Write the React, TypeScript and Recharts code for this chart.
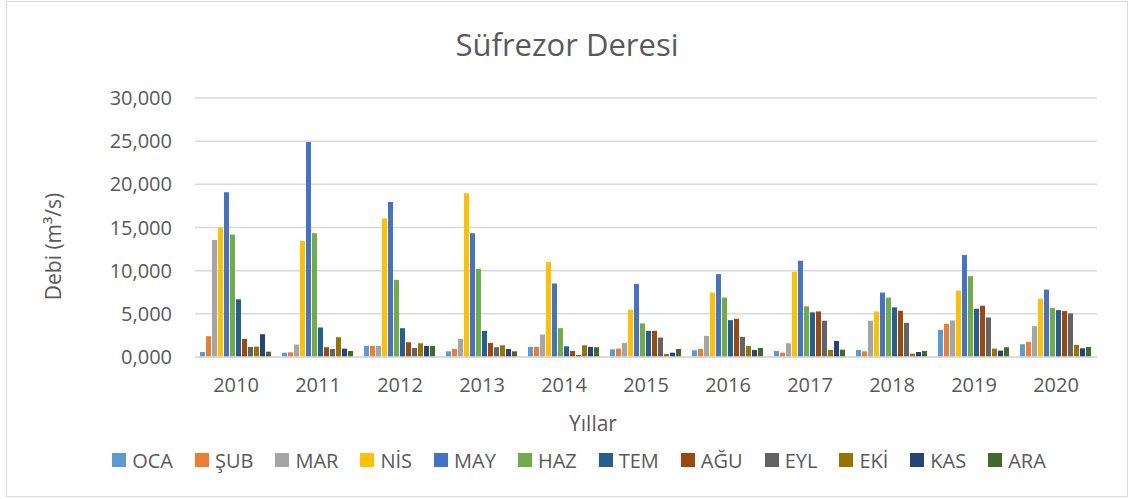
import { BarChart, Bar, XAxis, YAxis, CartesianGrid, Legend, Label } from 'recharts';

const years = ['2010', '2011', '2012', '2013', '2014', '2015', '2016', '2017', '2018', '2019', '2020'];
const months = ['OCA', 'ŞUB', 'MAR', 'NİS', 'MAY', 'HAZ', 'TEM', 'AĞU', 'EYL', 'EKİ', 'KAS', 'ARA'];
const colors = ['#5B9BD5', '#ED7D31', '#A5A5A5', '#FFC000', '#4472C4', '#70AD47', '#255E91', '#9E480E', '#636363', '#997300', '#264478', '#43682B'];
const yTicks = [0, 5, 10, 15, 20, 25, 30];

// debi (m³/s) per month, one value per year 2010..2020
const OCA = [0.58, 0.5, 1.28, 0.66, 1.17, 0.89, 0.78, 0.7, 0.82, 3.15, 1.48];
const SUB = [2.41, 0.55, 1.28, 0.93, 1.17, 0.97, 0.93, 0.5, 0.66, 3.85, 1.75];
const MAR = [13.56, 1.44, 1.28, 2.1, 2.6, 1.63, 2.45, 1.59, 4.2, 4.23, 3.57];
const NIS = [15.0, 13.44, 16.04, 18.96, 11.0, 5.48, 7.46, 9.87, 5.28, 7.69, 6.76];
const MAY = [19.08, 24.9, 17.95, 14.34, 8.51, 8.47, 9.6, 11.15, 7.46, 11.81, 7.81];
const HAZ = [14.18, 14.34, 8.94, 10.22, 3.34, 3.89, 6.88, 5.87, 6.88, 9.36, 5.67];
const TEM = [6.68, 3.42, 3.34, 3.03, 1.24, 3.03, 4.27, 5.17, 5.75, 5.59, 5.44];
const AGU = [2.1, 1.13, 1.71, 1.63, 0.7, 3.03, 4.43, 5.28, 5.36, 5.94, 5.32];
const EYL = [1.17, 0.93, 1.05, 1.13, 0.23, 2.25, 2.33, 4.2, 3.96, 4.58, 5.05];
const EKI = [1.2, 2.29, 1.59, 1.36, 1.36, 0.35, 1.28, 0.82, 0.39, 0.97, 1.4];
const KAS = [2.64, 0.97, 1.28, 0.93, 1.17, 0.5, 0.82, 1.86, 0.58, 0.74, 1.01];
const ARA = [0.62, 0.7, 1.28, 0.66, 1.13, 0.93, 1.05, 0.85, 0.7, 1.13, 1.17];

const series = [OCA, SUB, MAR, NIS, MAY, HAZ, TEM, AGU, EYL, EKI, KAS, ARA];

const data = years.map((year, i) => {
  const row: Record<string, string | number> = { year };
  months.forEach((m, j) => {
    row[m] = series[j][i];
  });
  return row;
});

const FONT = '"Open Sans", sans-serif';
const TEXT = '#595959';

const fmt = (v: number) => v.toFixed(3).replace('.', ',');

// keep the legend in month order (recharts would sort it by name)
function LegendRow() {
  return (
    <div
      style={{
        display: 'flex',
        justifyContent: 'center',
        alignItems: 'center',
        height: 40,
        paddingTop: 6,
        paddingLeft: 76,
        boxSizing: 'border-box',
        fontFamily: FONT,
        fontSize: 20,
        color: TEXT,
      }}
    >
      {months.map((m, j) => (
        <div key={m} style={{ display: 'flex', alignItems: 'center', marginRight: 22 }}>
          <span style={{ width: 14, height: 14, background: colors[j], marginRight: 6, display: 'inline-block' }} />
          <span>{m}</span>
        </div>
      ))}
    </div>
  );
}

export default function App() {
  return (
    <div
      style={{
        position: 'absolute',
        left: 6,
        top: 1,
        width: 1120,
        height: 494,
        border: '1px solid #d9d9d9',
        background: '#fff',
      }}
    >
      <div
        style={{
          position: 'absolute',
          top: 21,
          left: 0,
          width: 1120,
          textAlign: 'center',
          fontFamily: FONT,
          fontSize: 31,
          color: TEXT,
        }}
      >
        Süfrezor Deresi
      </div>
      <BarChart
        width={1120}
        height={494}
        data={data}
        margin={{ top: 96, right: 30, left: 0, bottom: 19 }}
        barCategoryGap={5}
        barGap={1}
      >
        <CartesianGrid vertical={false} stroke="#d9d9d9" strokeWidth={1.5} />
        <XAxis
          dataKey="year"
          height={80}
          tickLine={false}
          tickSize={0}
          tickMargin={21}
          axisLine={{ stroke: '#d9d9d9', strokeWidth: 1.5 }}
          tick={{ fill: TEXT, fontSize: 20, fontFamily: FONT }}
        >
          <Label
            value="Yıllar"
            position="insideBottom"
            offset={6}
            dx={-53}
            style={{ fill: TEXT, fontSize: 21, fontFamily: FONT }}
          />
        </XAxis>
        <YAxis
          width={188}
          domain={[0, 30]}
          ticks={yTicks}
          tickFormatter={fmt}
          axisLine={false}
          tickLine={false}
          tickSize={0}
          tickMargin={23}
          tick={{ fill: TEXT, fontSize: 20, fontFamily: FONT }}
        >
          <Label
            content={({ viewBox }: any) => {
              const cx = 46;
              const cy = viewBox.y + viewBox.height / 2 + 19;
              return (
                <text
                  x={cx}
                  y={cy}
                  transform={`rotate(-90, ${cx}, ${cy})`}
                  textAnchor="middle"
                  dominantBaseline="central"
                  fill={TEXT}
                  fontSize={21}
                  fontFamily={FONT}
                >
                  Debi (m³/s)
                </text>
              );
            }}
          />
        </YAxis>
        <Legend verticalAlign="bottom" height={40} content={<LegendRow />} />
        {months.map((m, j) => (
          <Bar key={m} dataKey={m} fill={colors[j]} isAnimationActive={false} />
        ))}
      </BarChart>
    </div>
  );
}
